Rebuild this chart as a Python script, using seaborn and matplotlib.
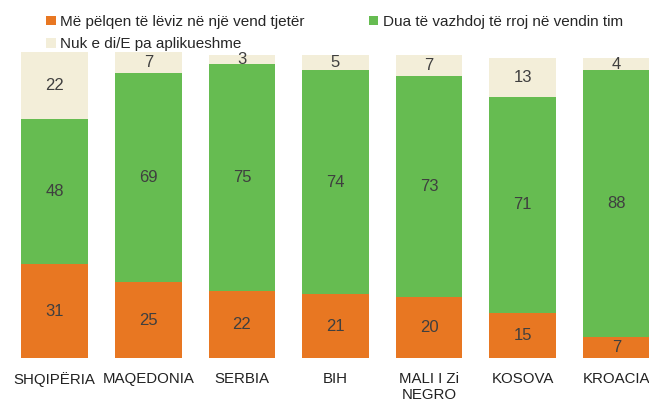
import pandas as pd
import matplotlib.pyplot as plt
import seaborn as sns
from matplotlib.patches import Patch

sns.set_style('white')
plt.rcParams['font.family'] = ['Liberation Sans', 'DejaVu Sans']

# Data
countries = ['SHQIPËRIA', 'MAQEDONIA', 'SERBIA', 'BIH', 'MALI I Zi\nNEGRO', 'KOSOVA', 'KROACIA']
leave = [31, 25, 22, 21, 20, 15, 7]
stay = [48, 69, 75, 74, 73, 71, 88]
na = [22, 7, 3, 5, 7, 13, 4]
series_names = ['Më pëlqen të lëviz në një vend tjetër',
                'Dua të vazhdoj të rroj në vendin tim',
                'Nuk e di/E pa aplikueshme']

COLORS = ['#E87722', '#66BC51', '#F3EED9']
TEXT = '#3F3F3F'

df = pd.DataFrame({'Country': countries, 'leave': leave, 'stay': stay, 'na': na})
df['c2'] = df['leave'] + df['stay']
df['c3'] = df['c2'] + df['na']

fig = plt.figure(figsize=(6.49, 4.05), dpi=100)
# axes placed so the plot spans the full width like the original
ax = fig.add_axes([0, 47 / 405, 1, 303 * 1.05 / 405])

w = 0.71
sns.barplot(data=df, x='Country', y='c3', color=COLORS[2], width=w, saturation=1, linewidth=0, ax=ax)
sns.barplot(data=df, x='Country', y='c2', color=COLORS[1], width=w, saturation=1, linewidth=0, ax=ax)
sns.barplot(data=df, x='Country', y='leave', color=COLORS[0], width=w, saturation=1, linewidth=0, ax=ax)

for i in range(len(countries)):
    ax.text(i, leave[i] / 2, str(leave[i]), ha='center', va='center', fontsize=12, color=TEXT)
    ax.text(i, leave[i] + stay[i] / 2, str(stay[i]), ha='center', va='center', fontsize=12, color=TEXT)
    ax.text(i, leave[i] + stay[i] + na[i] / 2, str(na[i]), ha='center', va='center', fontsize=12, color=TEXT)

ax.set_xlim(-54.7 / 93.6, (649 - 54.7) / 93.6)
ax.set_ylim(0, 105)
ax.set_xlabel('')
ax.set_ylabel('')
ax.set_yticks([])
ax.tick_params(axis='x', length=0, pad=10, labelsize=10.8, colors='#222222')
sns.despine(ax=ax, left=True, bottom=True)

# order so that the legend fills row by row: orange, green / beige
handles = [Patch(facecolor=c, edgecolor='none') for c in COLORS]
order = [0, 2, 1]
fig.legend([handles[k] for k in order], [series_names[k] for k in order],
           loc='upper left', bbox_to_anchor=(0.055, 0.99), ncol=2,
           frameon=False, fontsize=11, handlelength=0.6, handleheight=0.6, handletextpad=0.3,
           columnspacing=4.2, labelspacing=0.55, borderpad=0.2)

fig.savefig('out.png', dpi=100)
